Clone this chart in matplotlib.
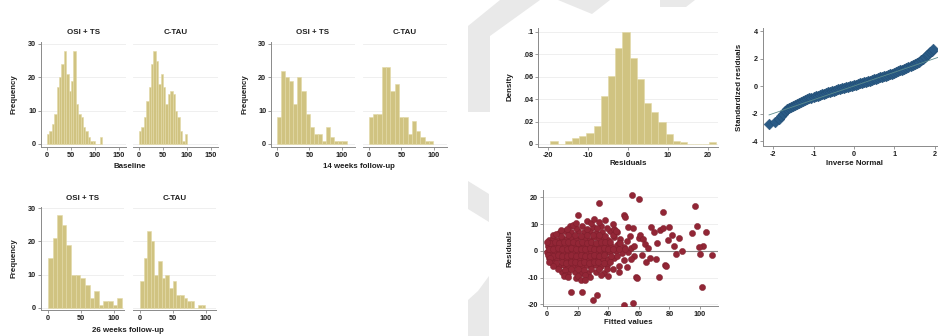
import matplotlib
matplotlib.use("Agg")
import matplotlib.pyplot as plt
from matplotlib.patches import Polygon
import numpy as np

plt.rcParams['font.family'] = ['Liberation Sans', 'DejaVu Sans']
plt.rcParams['axes.unicode_minus'] = False

# ---------------- data ----------------
group_titles = ["OSI + TS", "C-TAU"]
period_labels = ["Baseline", "14 weeks follow-up", "26 weeks follow-up"]

# histogram bins: (start, width) and frequencies
base_osi_bin = (0.0, 5.0)
base_osi_freq = [3, 4, 6, 9, 17, 20, 24, 28, 21, 16, 19, 28, 12, 9, 8, 5, 4, 2, 1, 1, 0, 0, 2]
base_ctau_bin = (0.0, 5.0)
base_ctau_freq = [4, 5, 8, 13, 17, 24, 28, 25, 18, 21, 17, 12, 15, 16, 15, 10, 8, 4, 1, 3]

w14_osi_bin = (0.0, 6.3)
w14_osi_freq = [8, 22, 20, 19, 12, 20, 16, 9, 5, 3, 3, 1, 5, 2, 1, 1, 1]
w14_ctau_bin = (0.0, 6.6)
w14_ctau_freq = [8, 9, 9, 23, 23, 16, 18, 8, 8, 3, 7, 4, 2, 1, 1]

w26_osi_bin = (0.0, 7.0)
w26_osi_freq = [15, 21, 28, 25, 19, 10, 10, 9, 7, 3, 5, 1, 2, 2, 1, 3]
w26_ctau_bin = (0.0, 5.5)
w26_ctau_freq = [8, 15, 23, 20, 10, 14, 9, 10, 6, 8, 4, 4, 3, 2, 2, 0, 1, 1]

# residual density histogram
resid_bin = (-19.4, 1.8)
resid_density = [0.003, 0.0, 0.003, 0.005, 0.007, 0.010, 0.016, 0.043, 0.061, 0.086,
                 0.100, 0.077, 0.058, 0.037, 0.029, 0.020, 0.009, 0.003, 0.002,
                 0.0, 0.0, 0.0, 0.002]

# normal Q-Q plot (inverse normal, standardized residual)
qq_x = [-2.09, -1.96, -1.86, -1.80, -1.75, -1.70, -1.65,
        -1.60, -1.55, -1.50, -1.45, -1.40, -1.35, -1.30, -1.25, -1.20, -1.15, -1.10,
        -1.05, -1.00, -0.95, -0.90, -0.85, -0.80, -0.75, -0.70, -0.65, -0.60, -0.55,
        -0.50, -0.45, -0.40, -0.35, -0.30, -0.25, -0.20, -0.15, -0.10, -0.05, 0.00,
        0.05, 0.10, 0.15, 0.20, 0.25, 0.30, 0.35, 0.40, 0.45, 0.50, 0.55, 0.60, 0.65,
        0.70, 0.75, 0.80, 0.85, 0.90, 0.95, 1.00, 1.05, 1.10, 1.15, 1.20, 1.25, 1.30,
        1.35, 1.40, 1.45, 1.50, 1.55, 1.60, 1.65, 1.70, 1.75, 1.80, 1.84, 1.88, 1.92,
        1.96]
qq_y = [-2.75, -2.65, -2.40, -2.20, -2.00, -1.85, -1.70,
        -1.60, -1.50, -1.43, -1.36, -1.29, -1.22, -1.15, -1.09, -1.03, -0.96, -0.90,
        -0.85, -0.80, -0.75, -0.70, -0.65, -0.60, -0.55, -0.50, -0.46, -0.42, -0.38,
        -0.34, -0.29, -0.25, -0.21, -0.17, -0.13, -0.09, -0.05, -0.01, 0.03, 0.07,
        0.11, 0.15, 0.19, 0.23, 0.27, 0.31, 0.36, 0.40, 0.44, 0.48, 0.53, 0.57, 0.62,
        0.66, 0.71, 0.76, 0.81, 0.86, 0.91, 0.96, 1.02, 1.07, 1.13, 1.18, 1.24, 1.30,
        1.37, 1.43, 1.50, 1.57, 1.66, 1.75, 1.86, 1.97, 2.10, 2.22, 2.34, 2.45, 2.58,
        2.72]
qq_line = [-2.1, 2.1]

# residuals vs fitted values
fitted = [1, 4, 7, 10, 13, 16, 19, 22, 25, 28, 31, 34, 37, 40, 44,
          0.5, 3, 6, 9, 12, 15, 18, 21, 24, 27, 30, 33, 36, 39, 42, 46, 50,
          0.3, 2.5, 5, 8, 11, 14, 17, 20, 23, 26, 29, 32, 35, 38, 41, 45, 49, 53,
          1, 3.5, 6.5, 9.5, 12.5, 15.5, 18.5, 21.5, 24.5, 27.5, 30.5, 33.5, 36.5, 40, 44,
          5, 8, 11, 14, 17, 20, 23, 26, 29, 32, 35, 39,
          8, 12, 16, 20, 24, 28, 32, 36, 41, 46,
          10, 14, 18, 22, 27, 32, 37,
          15, 23, 30, 35, 19, 28, 48, 52, 55, 57, 50, 47, 43,
          2, 5, 8, 11, 14, 17, 20, 23, 26, 29, 32, 35, 38, 41, 47,
          1.5, 4, 7, 10, 13, 16, 19, 22, 25, 28, 31, 34, 37, 40, 43, 47, 51,
          0.8, 4, 7, 10, 13, 16, 19, 22, 25, 28, 31, 34, 37, 42, 46,
          2.5, 6, 9.5, 12.5, 15.5, 18.5, 21.5, 24.5, 27.5, 30.5, 33.5, 37, 41,
          4, 9, 14, 18, 22, 26, 30, 34, 38, 43,
          7, 12, 16, 20, 24, 29, 34, 39,
          13, 19, 26, 33, 39, 44,
          12, 20, 25, 35,
          0.2, 2, 1.5, 4, 6, 9, 11, 14, 17, 19, 22, 25, 26, 29, 31, 34, 38, 40, 43, 45,
          47, 48, 50, 51, 52, 53, 54, 55, 56, 57, 58, 59, 60, 61, 62, 63, 64, 65, 66, 67,
          68, 70, 71, 72, 73, 74, 76, 77, 78, 79, 80, 82, 83, 84, 86, 88, 95, 98, 104,
          102, 107.6, 100, 99, 101, 97, 76, 55.3, 60.4, 34.2, 20.5, 16, 22.7, 30, 32.7,
          50.6, 56]
resid = [4.2, 4.8, 4.1, 5.0, 4.4, 4.9, 4.3, 5.2, 4.6, 4.0, 5.1, 4.5, 4.8, 4.2, 5.3,
         1.8, 2.2, 1.6, 2.4, 1.9, 2.3, 1.7, 2.1, 2.5, 1.8, 2.2, 1.6, 2.4, 2.0, 1.7, 2.3, 1.5,
         -0.4, -0.8, -0.2, -0.7, -0.3, -0.9, -0.1, -0.6, -0.4, -0.8, -0.2, -0.6, -0.3, -0.9,
         -0.5, -0.2, -0.7, -0.4,
         -2.8, -3.2, -2.7, -3.3, -2.9, -3.1, -2.6, -3.4, -2.8, -3.2, -2.7, -3.3, -2.9, -3.1, -2.6,
         -5.4, -5.8, -5.2, -5.9, -5.5, -5.1, -5.7, -5.3, -5.8, -5.2, -5.6, -5.4,
         6.8, 7.3, 6.9, 7.4, 7.0, 7.5, 6.8, 7.2, 7.6, 6.9,
         -7.8, -8.3, -7.7, -8.1, -8.4, -7.9, -8.2,
         9.2, 9.5, 9.0, 9.4, -10.2, -9.9, 4.6, 3.8, 1.2, -1.8, -3.5, -5.6, -6.9,
         3.1, 3.4, 3.0, 3.5, 3.2, 3.3, 2.9, 3.4, 3.1, 3.5, 3.0, 3.3, 3.2, 3.4, 3.0,
         0.9, 0.6, 1.0, 0.7, 0.8, 1.1, 0.6, 0.9, 0.7, 1.0, 0.8, 0.6, 1.1, 0.7, 0.9, 0.8, 0.6,
         -1.7, -1.9, -1.6, -2.0, -1.8, -1.7, -2.0, -1.6, -1.9, -1.8, -1.7, -2.0, -1.6, -1.9, -1.8,
         -4.2, -4.4, -4.1, -4.5, -4.3, -4.2, -4.4, -4.1, -4.5, -4.3, -4.2, -4.4, -4.1,
         5.9, 5.7, 6.0, 5.8, 5.6, 6.1, 5.8, 5.9, 5.7, 6.0,
         -6.7, -7.0, -6.8, -6.6, -7.1, -6.9, -6.7, -6.9,
         8.3, 8.6, 8.2, 8.5, 8.4, 8.1,
         -9.0, -9.3, -8.9, -9.1,
         3.2, -2.5, -4.0, -5.8, 6.5, 8.0, -9.5, -9.6, 9.8, 10.5, -11.0, -10.8, 11.2, 10.4,
         11.8, 11.0, 11.5, -9.5, 10.2, 7.5,
         -8.0, 3.0, 13.4, 12.6, -6.0, 9.0, 5.5, -3.0, 8.5, 2.0, -9.6, -10.2, 5.0, 6.0, -1.5,
         4.5, 2.5, -4.0, 1.0, -2.5,
         9.0, 7.0, -3.0, 3.0, -9.6, 8.0, 8.5, -5.3, -5.5, 4.0, 9.0, 6.0, 2.0, -1.0, 5.0, 0.0,
         6.6, 9.5, 6.9,
         1.9, -1.5, -1.0, 1.5, -13.4, 16.9, 14.7, 21.0, 19.5, 17.9, 13.5, -15.5, -15.5, -18.4,
         -16.5, -20.2, -19.3]

# ---------------- style ----------------
W, H = 938, 336
fig = plt.figure(figsize=(W / 100, H / 100), dpi=100)
fig.patch.set_facecolor('white')

HIST_C = '#d0c381'
HIST_E = '#e2d9a6'
AX_C = '#8a8a8a'
GRID_C = '#ececec'
TXT_C = '#1e1e1e'
FS = 5.2
FW = 'bold'

# watermark shapes (figure pixel coords, top origin)
wm = [
    [(468, 26), (500, 0), (540, 0), (490, 36), (490, 112), (468, 112)],
    [(558, 0), (610, 0), (592, 14)],
    [(660, 0), (695, 0), (686, 7), (660, 7)],
    [(468, 181), (489, 194), (489, 222), (468, 209)],
    [(468, 300), (478, 291), (489, 276), (489, 336), (468, 336)],
]
for poly in wm:
    pts = [(x / W, 1 - y / H) for x, y in poly]
    fig.patches.append(Polygon(pts, closed=True, transform=fig.transFigure,
                               facecolor='#e9e9e9', edgecolor='none', zorder=0))


def ax_px(x0, x1, ytop, ybot):
    return fig.add_axes([x0 / W, 1 - ybot / H, (x1 - x0) / W, (ybot - ytop) / H])


def style(ax, left=True):
    for s in ['top', 'right']:
        ax.spines[s].set_visible(False)
    ax.spines['bottom'].set_color(AX_C)
    ax.spines['bottom'].set_linewidth(0.7)
    if left:
        ax.spines['left'].set_color(AX_C)
        ax.spines['left'].set_linewidth(0.7)
    else:
        ax.spines['left'].set_visible(False)
    ax.tick_params(axis='both', length=2, width=0.6, color=AX_C, pad=1.5,
                   labelsize=FS, labelcolor=TXT_C)
    for lab in ax.get_xticklabels() + ax.get_yticklabels():
        lab.set_fontweight(FW)
    ax.set_facecolor('none')


def draw_hist(ax, binspec, freq):
    start, width = binspec
    edges = start + width * np.arange(len(freq))
    ax.bar(edges, freq, width=width, align='edge', color=HIST_C,
           edgecolor=HIST_E, linewidth=0.4, zorder=2)


def hist_pair(boxes, specs, xlim, ylim, xticks, xlabel, title_y, xlabel_y, ylab_x):
    for i, (box, (bs, fr)) in enumerate(zip(boxes, specs)):
        ax = ax_px(*box)
        draw_hist(ax, bs, fr)
        ax.set_xlim(*xlim)
        ax.set_ylim(*ylim)
        ax.set_xticks(xticks)
        ax.set_yticks([0, 10, 20, 30])
        ax.yaxis.grid(True, color=GRID_C, linewidth=0.6, zorder=0)
        ax.set_axisbelow(True)
        if i == 1:
            ax.tick_params(axis='y', left=False, labelleft=False)
        style(ax, left=(i == 0))
        cx = (box[0] + box[1]) / 2
        fig.text(cx / W, 1 - title_y / H, group_titles[i], ha='center', va='center',
                 fontsize=FS + 0.5, fontweight=FW, color=TXT_C)
    cx = (boxes[0][0] + boxes[1][1]) / 2
    fig.text(cx / W, 1 - xlabel_y / H, xlabel, ha='center', va='center',
             fontsize=FS + 0.5, fontweight=FW, color=TXT_C)
    fig.text(ylab_x / W, 1 - (boxes[0][2] + boxes[0][3]) / 2 / H, "Frequency",
             rotation=90, ha='center', va='center', fontsize=FS + 0.5,
             fontweight=FW, color=TXT_C)


# Baseline
hist_pair([(41, 125.7, 42, 147), (133, 217.7, 42, 147)],
          [(base_osi_bin, base_osi_freq), (base_ctau_bin, base_ctau_freq)],
          (-12.5, 164), (-0.9, 30.6), [0, 50, 100, 150], period_labels[0],
          33, 166, 14)
# 14 weeks
hist_pair([(271, 355, 42, 147), (363, 447, 42, 147)],
          [(w14_osi_bin, w14_osi_freq), (w14_ctau_bin, w14_ctau_freq)],
          (-9, 120), (-0.9, 30.6), [0, 50, 100], period_labels[1],
          33, 166, 245)
# 26 weeks
hist_pair([(40.7, 123.9, 206.7, 310.3), (132.7, 215.9, 206.7, 310.3)],
          [(w26_osi_bin, w26_osi_freq), (w26_ctau_bin, w26_ctau_freq)],
          (-11, 115), (-0.7, 30.4), [0, 50, 100], period_labels[2],
          199, 331, 14)

# Residual density histogram
ax = ax_px(538, 718, 27.5, 146.8)
start, width = resid_bin
edges = start + width * np.arange(len(resid_density))
ax.bar(edges, resid_density, width=width, align='edge', color=HIST_C,
       edgecolor=HIST_E, linewidth=0.4, zorder=2)
ax.set_xlim(-22.5, 22.5)
ax.set_ylim(-0.0025, 0.104)
ax.set_xticks([-20, -10, 0, 10, 20])
ax.set_yticks([0, 0.02, 0.04, 0.06, 0.08, 0.1])
ax.set_yticklabels(['0', '.02', '.04', '.06', '.08', '.1'])
ax.yaxis.grid(True, color=GRID_C, linewidth=0.6)
ax.set_axisbelow(True)
style(ax)
fig.text(628 / W, 1 - 163 / H, "Residuals", ha='center', va='center',
         fontsize=FS + 0.5, fontweight=FW, color=TXT_C)
fig.text(510 / W, 1 - 87 / H, "Density", rotation=90, ha='center', va='center',
         fontsize=FS + 0.5, fontweight=FW, color=TXT_C)

# Q-Q plot
ax = ax_px(763, 959, 28.25, 146)
ax.plot(qq_line, qq_line, color='#5c8c8c', linewidth=0.6, zorder=4)
ax.scatter(qq_x, qq_y, s=30, marker='D', color='#2a5b86', edgecolor='#1f4a70',
           linewidth=0.3, zorder=3)
ax.set_xlim(-2.25, 2.6)
ax.set_ylim(-4.36, 4.2)
ax.set_xticks([-2, -1, 0, 1, 2])
ax.set_yticks([-4, -2, 0, 2, 4])
style(ax)
fig.text(854 / W, 1 - 163 / H, "Inverse Normal", ha='center', va='center',
         fontsize=FS + 0.5, fontweight=FW, color=TXT_C)
fig.text(739 / W, 1 - 87 / H, "Standardized residuals", rotation=90, ha='center',
         va='center', fontsize=FS + 0.5, fontweight=FW, color=TXT_C)

# Residuals vs fitted
ax = ax_px(543, 718.4, 190, 306)
ax.axhline(0, color='#8a8a8a', linewidth=0.8, zorder=1)
ax.scatter(fitted, resid, s=20, marker='o', color='#922636', edgecolor='#7a1d2a',
           linewidth=0.3, zorder=3)
ax.set_xlim(-2.6, 112)
ax.set_ylim(-20.6, 22.8)
ax.set_xticks([0, 20, 40, 60, 80, 100])
ax.set_yticks([-20, -10, 0, 10, 20])
ax.yaxis.grid(True, color=GRID_C, linewidth=0.6)
ax.set_axisbelow(True)
style(ax)
fig.text(628 / W, 1 - 323 / H, "Fitted values", ha='center', va='center',
         fontsize=FS + 0.5, fontweight=FW, color=TXT_C)
fig.text(510 / W, 1 - 248 / H, "Residuals", rotation=90, ha='center', va='center',
         fontsize=FS + 0.5, fontweight=FW, color=TXT_C)

fig.savefig("out.png", dpi=100, facecolor='white')
